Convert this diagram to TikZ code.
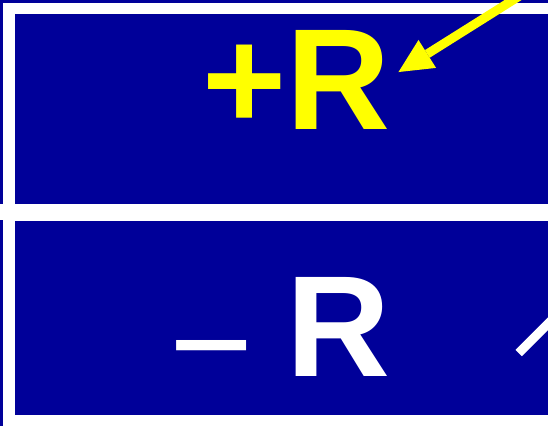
\documentclass[tikz,border=0pt]{standalone}
\usepackage{fontspec}
\setmainfont{Liberation Sans}
\usepackage{tikz}
\usetikzlibrary{arrows.meta,%
                positioning}
\definecolor{slideblue}{RGB}{0,0,153}
\definecolor{slideyellow}{RGB}{255,255,0}

\begin{document}
\begin{tikzpicture}[x=1pt,y=-1pt,
  panel/.style={fill=slideblue, inner sep=0pt, outer sep=0pt, anchor=north west, minimum width=533pt},
  bigtext/.style={font=\fontsize{144}{144}\selectfont\bfseries, inner sep=0pt, anchor=base west},
  pointer/.style={draw=slideyellow, line width=9pt, -{Triangle[length=34pt,width=33pt,line width=0pt]}}]
\useasboundingbox[fill=white] (0,0) rectangle (557,426);
% edges of the next panels
\fill[slideblue] (0,0) rectangle (548,2.5);
\fill[slideblue] (0,0) rectangle (3.3,203.5);
\fill[slideblue] (0,219.5) rectangle (3.3,426);
% panels
\node[panel, minimum height=190pt] (toppanel) at (15,14) {};
\node[panel, minimum height=194.5pt] (botpanel) at (15,220.5) {};
% labels
\node[bigtext, text=slideyellow] (plusR) at (202,129.3) {+R};
\node[bigtext, text=white] (minusR) at (169,376) {{\mdseries\raisebox{-17pt}{−}}\hspace{33pt}R};
% pointers
\coordinate (plussrc) at (529,-10);
\draw[pointer] (plussrc) -- ([shift={(8,42)}]plusR.north east);
\coordinate (minussrc) at (565,306.7);
\coordinate (minusend) at (518.7,353);
\draw[white, line width=9pt] (minussrc) -- (minusend);
\end{tikzpicture}
\end{document}
